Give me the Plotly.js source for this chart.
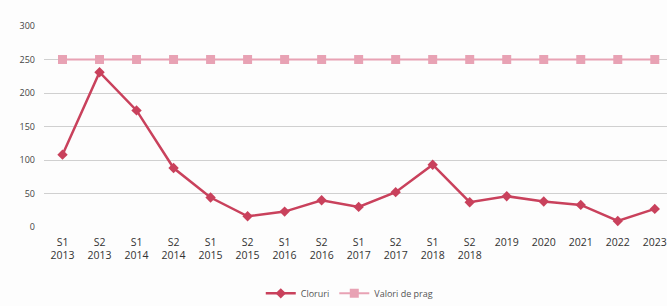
<!DOCTYPE html>
<html>
<head>
<meta charset="utf-8">
<script src="https://cdn.plot.ly/plotly-3.0.1.min.js"></script>
<style>html,body{margin:0;padding:0;background:#fff;}#chart{width:667px;height:306px;}</style>
</head>
<body>
<div id="chart"></div>
<script>
var categories = ["S1<br>2013","S2<br>2013","S1<br>2014","S2<br>2014","S1<br>2015","S2<br>2015","S1<br>2016","S2<br>2016","S1<br>2017","S2<br>2017","S1<br>2018","S2<br>2018","2019","2020","2021","2022","2023"];
var cloruri = [108, 231, 174, 88, 44, 16, 23, 40, 30, 52, 93, 37, 46, 38, 33, 9, 27];
var prag = [250, 250, 250, 250, 250, 250, 250, 250, 250, 250, 250, 250, 250, 250, 250, 250, 250];

var traces = [
  {x: categories, y: cloruri, name: "Cloruri", type: "scatter", mode: "lines+markers",
   line: {color: "#c9415c", width: 2.5}, marker: {symbol: "diamond", size: 8, color: "#c9415c"}},
  {x: categories, y: prag, name: "Valori de prag", type: "scatter", mode: "lines+markers",
   line: {color: "#e8a2b4", width: 2}, marker: {symbol: "square", size: 9, color: "#e8a2b4"}}
];
var layout = {
  width: 667, height: 306,
  margin: {l: 44, r: 0, t: 26, b: 79, autoexpand: false},
  paper_bgcolor: "#fdfdfd", plot_bgcolor: "#fdfdfd",
  font: {family: "Open Sans, sans-serif", size: 10, color: "#444"},
  showlegend: true,
  legend: {orientation: "h", x: 0.49, xanchor: "center", y: -0.33, yanchor: "middle", font: {size: 9, color: "#555"}},
  xaxis: {type: "category", range: [-0.5, 16.33], showgrid: false, zeroline: false, showline: false, ticks: "", tickfont: {size: 10.5, color: "#333"}, tickangle: 0, ticklabelstandoff: 7, automargin: false},
  yaxis: {range: [0, 300], dtick: 50, showgrid: true, gridcolor: "#d0d0d0", gridwidth: 1, zeroline: false, showline: false, ticks: "", tickfont: {size: 9, color: "#444"}, ticklabelstandoff: 8, automargin: false}
};
Plotly.newPlot("chart", traces, layout, {displayModeBar: false, staticPlot: true});
</script>
</body>
</html>
